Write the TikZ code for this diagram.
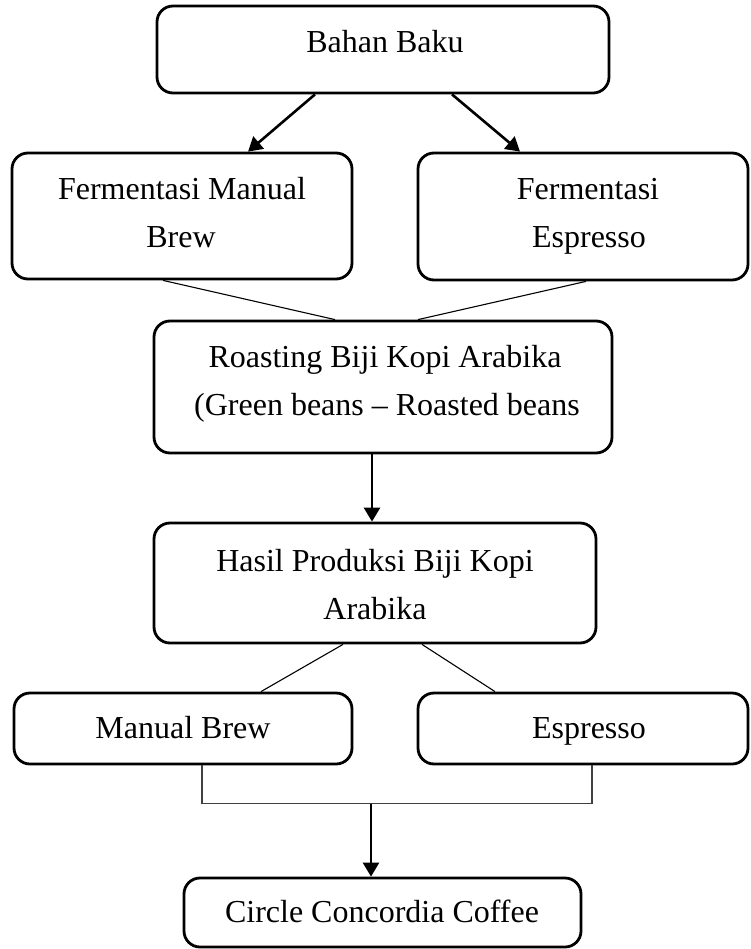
\documentclass[tikz,border=0pt]{standalone}
\usepackage{fontspec}
\setmainfont{Liberation Serif}
\usetikzlibrary{calc,arrows.meta}
\tikzset{
  box/.style={draw, line width=2.8pt, rounded corners=16pt, inner sep=0pt},
  txt/.style={anchor=base, inner sep=0pt, font=\fontsize{32}{48}\selectfont},
  arr/.style={line width=2.6pt, -{Triangle[length=14pt,width=16pt]}},
  thinln/.style={line width=1.1pt},
  brk/.style={line width=1.5pt, draw=black!75}
}
\begin{document}
\begin{tikzpicture}[x=1pt,y=-1pt]
\useasboundingbox (0,0) rectangle (751,949);
% boxes
\node[box, minimum width=452pt, minimum height=87pt] (bahan) at (383,49.5) {};
\node[box, minimum width=340pt, minimum height=126pt] (fman) at (182,216) {};
\node[box, minimum width=330pt, minimum height=127pt] (fesp) at (583,216.5) {};
\node[box, minimum width=458pt, minimum height=132pt] (roast) at (383,387) {};
\node[box, minimum width=442pt, minimum height=120pt] (hasil) at (375,583) {};
\node[box, minimum width=338pt, minimum height=71pt] (mbrew) at (183,728.5) {};
\node[box, minimum width=330pt, minimum height=71pt] (esp) at (583,728.5) {};
\node[box, minimum width=397pt, minimum height=69pt] (circle) at (382.5,912.5) {};
% texts
\node[txt] (t1) at (385,53) {Bahan Baku};
\node[txt] (t2a) at (182,200) {Fermentasi Manual};
\node[txt] (t2b) at (181,248) {Brew};
\node[txt] (t3a) at (588,200) {Fermentasi};
\node[txt] (t3b) at (589,248) {Espresso};
\node[txt] (t4a) at (385,367) {Roasting Biji Kopi Arabika};
\node[txt] (t4b) at (387,415) {(Green beans -- Roasted beans};
\node[txt] (t5a) at (375,571) {Hasil Produksi Biji Kopi};
\node[txt] (t5b) at (375,619) {Arabika};
\node[txt] (t6) at (183,738) {Manual Brew};
\node[txt] (t7) at (589,738) {Espresso};
\node[txt] (t8) at (382,922) {Circle Concordia Coffee};
% connectors
\draw[arr] ($(bahan.south)+(-68,0)$) -- ($(fman.north)+(66,0)$);
\draw[arr] ($(bahan.south)+(69,0)$) -- ($(fesp.north)+(-63,0)$);
\draw[thinln] ($(fman.south)+(-19,0)$) -- ($(roast.north)+(-48,0)$);
\draw[thinln] ($(fesp.south)+(3,0)$) -- ($(roast.north)+(35,0)$);
\draw[arr] ($(roast.south)+(-11,0)$) coordinate (r1) -- (r1 |- hasil.north);
\draw[thinln] ($(hasil.south)+(-32,0)$) -- ($(mbrew.north)+(78,0)$);
\draw[thinln] ($(hasil.south)+(47,0)$) -- ($(esp.north)+(-88,0)$);
\coordinate (j) at ($(circle.north)+(-11.5,-73)$);
\draw[brk] ($(mbrew.south)+(19,0)$) |- (j) -| ($(esp.south)+(9,0)$);
\draw[arr] (j) -- (j |- circle.north);
\end{tikzpicture}
\end{document}
